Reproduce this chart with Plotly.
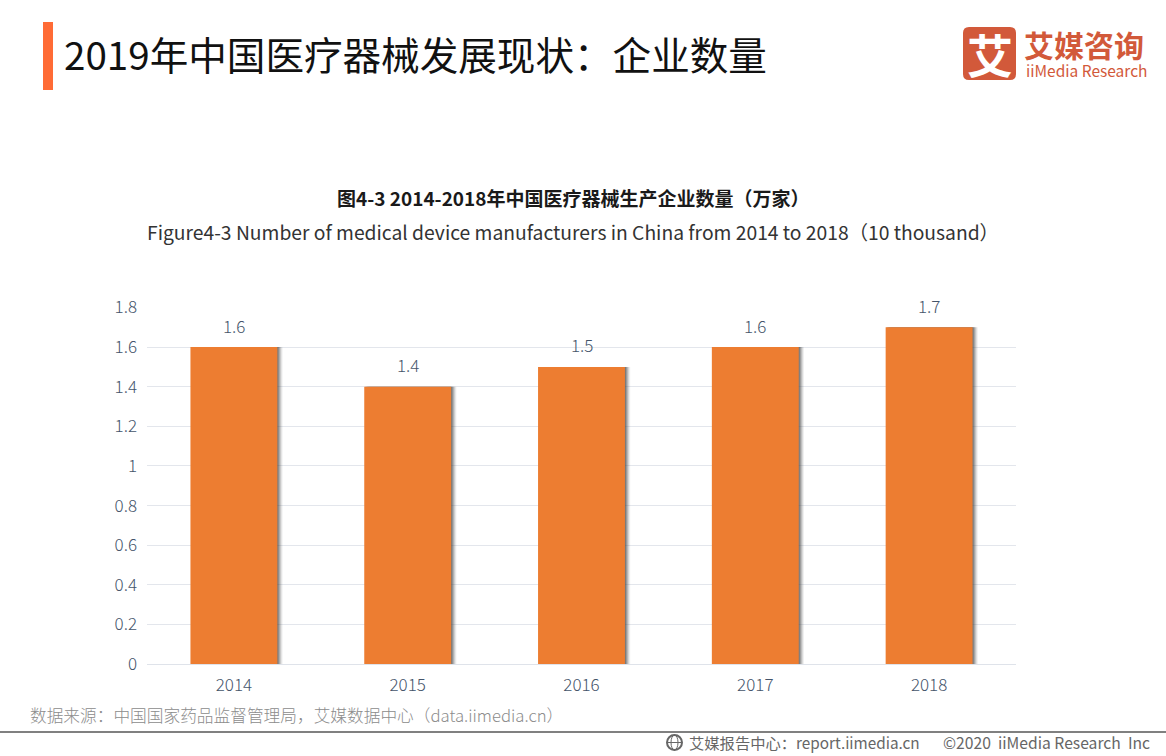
import plotly.graph_objects as go

categories = ["2014", "2015", "2016", "2017", "2018"]
values = [1.6, 1.4, 1.5, 1.6, 1.7]
tick_vals = [0, 0.2, 0.4, 0.6, 0.8, 1, 1.2, 1.4, 1.6, 1.8]
tick_text = ["0", "0.2", "0.4", "0.6", "0.8", "1", "1.2", "1.4", "1.6", "1.8"]

W, H = 1166, 756
CJK = "Noto Sans CJK SC"
INK = "#44546a"


def px(x):
    return x / W


def py(y):
    return 1 - y / H


fig = go.Figure()

# soft drop shadow on the right side of each bar
for off, alpha in [(0.03, 0.08), (0.024, 0.14), (0.018, 0.2), (0.012, 0.28), (0.006, 0.36)]:
    fig.add_trace(go.Bar(x=categories, y=values, width=0.5, offset=-0.25 + off,
                         marker=dict(color=f"rgba(70,70,70,{alpha})", line_width=0),
                         hoverinfo="skip", showlegend=False))

fig.add_trace(go.Bar(x=categories, y=values, width=0.5, offset=-0.25,
                     marker=dict(color="#ed7d31", line_width=0), showlegend=False))

texts = [
    ("2019年中国医疗器械发展现状：企业数量", 62, 53, 38.6, "#111111", "left", 400),
    ("图4-3 2014-2018年中国医疗器械生产企业数量（万家）", 573, 197, 19, "#1a1a1a", "center", 700),
    ("Figure4-3 Number of medical device manufacturers in China from 2014 to 2018（10 thousand）",
     572.5, 232, 19.3, "#333333", "center", 400),
    ("数据来源：中国国家药品监督管理局，艾媒数据中心（data.iimedia.cn）", 28, 715, 16.7, "#8c8c8c", "left", 300),
    ("艾媒报告中心：report.iimedia.cn", 687, 742, 15.3, "#666666", "left", 400),
    ("©2020  iiMedia Research  Inc", 941, 742, 15.7, "#666666", "left", 400),
    ("艾媒咨询", 1022, 44, 30, "#d2593a", "left", 700),
    ("iiMedia Research", 1024, 70, 15.5, "#d2593a", "left", 400),
    ("艾", 990, 53, 46, "#ffffff", "center", 700),
]
annotations = [
    dict(text=t, x=px(x), y=py(y), xref="paper", yref="paper", showarrow=False,
         xanchor=a, yanchor="middle", font=dict(family=CJK, size=s, color=c, weight=w))
    for t, x, y, s, c, a, w in texts
]
annotations += [
    dict(text=f"{v:g}", x=i, y=v, xref="x", yref="y", showarrow=False, yanchor="middle", yshift=22,
         font=dict(family=CJK, size=17, color=INK, weight=300))
    for i, v in enumerate(values)
]


def rrect(x0, y0, x1, y1, r):
    X0, X1, Y0, Y1 = px(x0), px(x1), py(y0), py(y1)
    rx, ry = r / W, r / H
    return (f"M{X0+rx},{Y0} L{X1-rx},{Y0} Q{X1},{Y0} {X1},{Y0-ry} L{X1},{Y1+ry} Q{X1},{Y1} {X1-rx},{Y1} "
            f"L{X0+rx},{Y1} Q{X0},{Y1} {X0},{Y1+ry} L{X0},{Y0-ry} Q{X0},{Y0} {X0+rx},{Y0} Z")


def box(x0, y0, x1, y1, **kw):
    return dict(type="rect", xref="paper", yref="paper", x0=px(x0), x1=px(x1), y0=py(y0), y1=py(y1), **kw)


shapes = [
    box(43, 22, 53, 90, fillcolor="#ff6b35", line_width=0),
    dict(type="path", xref="paper", yref="paper", path=rrect(963, 27, 1016, 80, 6),
         fillcolor="#d2593a", line_width=0, layer="below"),
    box(0, 731, 1166, 733, fillcolor="#808080", line_width=0),
    dict(type="circle", xref="paper", yref="paper", x0=px(667), x1=px(682), y0=py(735), y1=py(750),
         line=dict(color="#666666", width=2)),
    dict(type="circle", xref="paper", yref="paper", x0=px(671), x1=px(678), y0=py(735), y1=py(750),
         line=dict(color="#666666", width=1)),
    dict(type="line", xref="paper", yref="paper", x0=px(667), x1=px(682), y0=py(742.5), y1=py(742.5),
         line=dict(color="#666666", width=1)),
]

fig.update_layout(
    width=W, height=H, autosize=False,
    margin=dict(l=0, r=0, t=0, b=0),
    paper_bgcolor="white", plot_bgcolor="white",
    barmode="overlay",
    font=dict(family=CJK, color=INK),
    annotations=annotations, shapes=shapes,
    xaxis=dict(domain=[px(147), px(1016)], type="category", range=[-0.5, 4.5], showgrid=False, ticks="",
               automargin=False, showline=True, linecolor="#dfe3ea", linewidth=1, ticklabelstandoff=6,
               tickfont=dict(family=CJK, size=17, color=INK, weight=300)),
    yaxis=dict(domain=[py(664), py(307.5)], range=[0, 1.8], tickmode="array", automargin=False,
               tickvals=tick_vals, ticktext=tick_text, showgrid=True, gridcolor="#e3e6ec",
               gridwidth=1, zeroline=False, ticks="", ticklabelstandoff=9,
               tickfont=dict(family=CJK, size=17, color=INK, weight=300)),
)

fig.write_html("out.html", config={"displayModeBar": False},
               post_script="document.body.style.margin='0';")
